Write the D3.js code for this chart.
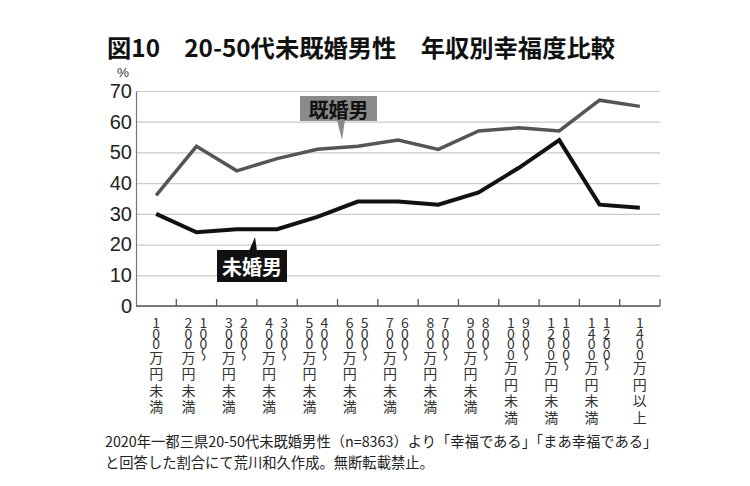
<!DOCTYPE html>
<html>
<head>
<meta charset="utf-8">
<script src="https://cdn.jsdelivr.net/npm/d3@7"></script>
<style>
  body { margin: 0; background: #fff; }
  svg { display: block; }
  .vchar { writing-mode: vertical-rl; text-orientation: upright; }
</style>
</head>
<body>
<div id="chart"></div>
<script>
var svgWidth = 750;
var svgHeight = 486;

// income brackets
var categories = ["100万円未満", "100～200万円未満", "200～300万円未満", "300～400万円未満",
  "400～500万円未満", "500～600万円未満", "600～700万円未満", "700～800万円未満",
  "800～900万円未満", "900～1000万円未満", "1000～1200万円未満", "1200～1400万円未満", "1400万円以上"];

// vertical tick labels, columns in reading order (right column first)
var tickLabels = [
  ["100万円未満"], ["100～", "200万円未満"], ["200～", "300万円未満"], ["300～", "400万円未満"],
  ["400～", "500万円未満"], ["500～", "600万円未満"], ["600～", "700万円未満"], ["700～", "800万円未満"],
  ["800～", "900万円未満"], ["900～", "1000万円未満"], ["1000～", "1200万円未満"], ["1200～", "1400万円未満"],
  ["1400万円以上"]
];

var married = [36, 52, 44, 48, 51, 52, 54, 51, 57, 58, 57, 67, 65];
var unmarried = [30, 24, 25, 25, 29, 34, 34, 33, 37, 45, 54, 33, 32];
var yTicks = [0, 10, 20, 30, 40, 50, 60, 70];

var margin = { top: 91, right: 90, bottom: 180, left: 136 };
var width = svgWidth - margin.left - margin.right;   // 524
var height = 306 - margin.top;                        // 215

var svg = d3.select("#chart")
  .append("svg")
  .attr("width", svgWidth)
  .attr("height", svgHeight);

svg.append("rect").attr("width", svgWidth).attr("height", svgHeight).attr("fill", "#fff");

var jp = "'Noto Sans CJK JP', 'Noto Sans', sans-serif";

// title
svg.append("text")
  .attr("x", 107)
  .attr("y", 57)
  .attr("font-family", jp)
  .attr("font-weight", "bold")
  .attr("font-size", 24.3)
  .attr("fill", "#111")
  .text("図10　20-50代未既婚男性　年収別幸福度比較");

var chartGroup = svg.append("g")
  .attr("transform", `translate(${margin.left}, ${margin.top})`);

var xScale = d3.scaleBand().domain(categories).range([0, width]).padding(0);
var yScale = d3.scaleLinear().domain([0, 70]).range([height, 0]);
var xMid = d => xScale(d) + xScale.bandwidth() / 2;

// grid lines
var grid = chartGroup.append("g")
  .call(d3.axisLeft(yScale).tickValues(yTicks).tickSize(-width).tickFormat(""));
grid.select(".domain").remove();
grid.selectAll("line").attr("stroke", "#c9c9c9").attr("stroke-width", 1.2);

// y labels
var yAxis = chartGroup.append("g")
  .call(d3.axisLeft(yScale).tickValues(yTicks).tickSize(0).tickPadding(4));
yAxis.select(".domain").attr("stroke", "#777").attr("stroke-width", 1.2);
yAxis.selectAll("text")
  .attr("font-family", "'Liberation Sans', Arial, sans-serif")
  .attr("font-size", 20)
  .attr("fill", "#222");

svg.append("text")
  .attr("x", 123)
  .attr("y", 76.5)
  .attr("text-anchor", "middle")
  .attr("font-family", "'Liberation Sans', Arial, sans-serif")
  .attr("font-size", 13.5)
  .attr("fill", "#333")
  .text("%");

// bottom axis with ticks at band edges pointing up
var edges = categories.map(c => xScale(c)).concat([width]);
chartGroup.append("line")
  .attr("x1", 0).attr("x2", width)
  .attr("y1", height).attr("y2", height)
  .attr("stroke", "#555").attr("stroke-width", 1.5);
chartGroup.selectAll(".xtick")
  .data(edges.slice(1))
  .enter()
  .append("line")
  .attr("x1", d => d).attr("x2", d => d)
  .attr("y1", height).attr("y2", height - 7)
  .attr("stroke", "#555").attr("stroke-width", 1.3);

// vertical x labels, one character at a time
var isHalf = ch => /[0-9～]/.test(ch);
var labelGroup = svg.append("g")
  .attr("font-family", jp)
  .attr("font-size", 14)
  .attr("fill", "#333");

tickLabels.forEach(function(cols, i) {
  var cx = margin.left + xMid(categories[i]);
  cols.forEach(function(col, j) {
    var colX = cols.length === 1 ? cx : (j === 0 ? cx + 7 : cx - 8);
    var chars = Array.from(col);
    var cy = 322;
    chars.forEach(function(ch, k) {
      if (k > 0) {
        var a = isHalf(chars[k - 1]) ? 10.5 : 16.5;
        var b = isHalf(ch) ? 10.5 : 16.5;
        cy += (a + b) / 2;
      }
      if (ch === "～") {
        // vertical form of the wave dash
        labelGroup.append("text")
          .attr("class", "vchar")
          .attr("x", colX)
          .attr("y", cy - 7)
          .text(ch);
      } else {
        labelGroup.append("text")
          .attr("x", colX)
          .attr("y", cy)
          .attr("text-anchor", "middle")
          .attr("dominant-baseline", "central")
          .text(ch);
      }
    });
  });
});

// lines
var line = d3.line()
  .x((d, i) => xMid(categories[i]))
  .y(d => yScale(d));

chartGroup.append("path")
  .datum(married)
  .attr("d", line)
  .attr("fill", "none")
  .attr("stroke", "#555")
  .attr("stroke-width", 3.5);

chartGroup.append("path")
  .datum(unmarried)
  .attr("d", line)
  .attr("fill", "none")
  .attr("stroke", "#111")
  .attr("stroke-width", 4);

// callout labels
svg.append("polygon")
  .attr("points", "337,120 345,120 342,140")
  .attr("fill", "#8a8a8a");
svg.append("rect")
  .attr("x", 300).attr("y", 96)
  .attr("width", 77).attr("height", 25)
  .attr("fill", "#8a8a8a");
svg.append("text")
  .attr("x", 338.5).attr("y", 109)
  .attr("text-anchor", "middle")
  .attr("dominant-baseline", "central")
  .attr("font-family", jp)
  .attr("font-weight", "bold")
  .attr("font-size", 20)
  .attr("fill", "#111")
  .text("既婚男");

svg.append("polygon")
  .attr("points", "249,251 257,251 255,237")
  .attr("fill", "#111");
svg.append("rect")
  .attr("x", 217).attr("y", 250)
  .attr("width", 70).attr("height", 32)
  .attr("fill", "#111");
svg.append("text")
  .attr("x", 252).attr("y", 266.5)
  .attr("text-anchor", "middle")
  .attr("dominant-baseline", "central")
  .attr("font-family", jp)
  .attr("font-weight", "bold")
  .attr("font-size", 20)
  .attr("fill", "#fff")
  .text("未婚男");

// footer note
var note = svg.append("g")
  .attr("font-family", jp)
  .attr("font-size", 14.3)
  .attr("fill", "#222");
note.append("text").attr("x", 105).attr("y", 447)
  .text("2020年一都三県20-50代未既婚男性（n=8363）より「幸福である」「まあ幸福である」");
note.append("text").attr("x", 105).attr("y", 468)
  .text("と回答した割合にて荒川和久作成。無断転載禁止。");
</script>
</body>
</html>
